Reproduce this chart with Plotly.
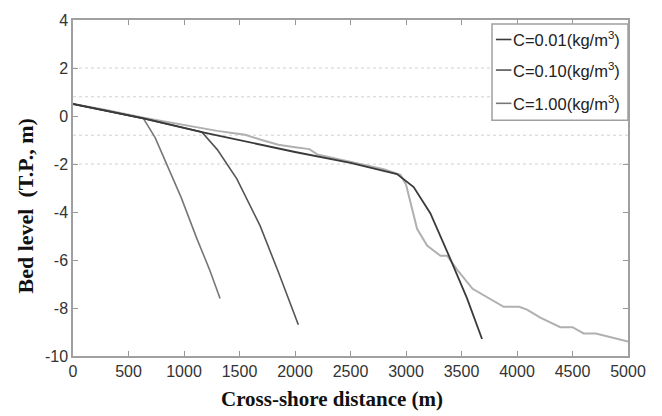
import plotly.graph_objects as go

# Shared upper profile (dark, C=0.01) and its offshore drop
x_c001 = [0, 634, 1160, 2000, 2500, 2919, 3069, 3219, 3400, 3550, 3685]
y_c001 = [0.5, -0.1, -0.67, -1.5, -1.95, -2.42, -2.96, -4.05, -5.96, -7.6, -9.29]

# C=0.10 profile
x_c010 = [0, 634, 1160, 1300, 1476, 1686, 1850, 2030]
y_c010 = [0.5, -0.1, -0.67, -1.4, -2.62, -4.58, -6.5, -8.7]

# C=1.00 profile
x_c100 = [0, 634, 740, 845, 975, 1115, 1230, 1325]
y_c100 = [0.5, -0.1, -0.9, -2.0, -3.4, -5.1, -6.4, -7.6]

# Light profile (no legend entry)
x_init = [0, 300, 634, 900, 1050, 1200, 1300, 1450, 1550, 1700, 1850, 2000, 2130, 2200,
          2400, 2600, 2800, 2950, 3000, 3100, 3190, 3310, 3370, 3460, 3600, 3880, 4020,
          4090, 4210, 4390, 4500, 4600, 4710, 5000]
y_init = [0.5, 0.25, -0.07, -0.3, -0.4, -0.55, -0.62, -0.72, -0.78, -1.0, -1.2, -1.3, -1.38, -1.6,
          -1.8, -2.0, -2.22, -2.45, -2.85, -4.7, -5.4, -5.82, -5.82, -6.4, -7.2, -7.95, -7.95,
          -8.07, -8.4, -8.8, -8.8, -9.06, -9.06, -9.4]

grid_levels = [2, 0.8, -0.8, -2]
x_ticks = list(range(0, 5001, 500))
y_ticks = list(range(-10, 5, 2))
legend_labels = ["C=0.01(kg/m<sup>3</sup>)", "C=0.10(kg/m<sup>3</sup>)", "C=1.00(kg/m<sup>3</sup>)"]
legend_colors = ["#3a3a3a", "#555555", "#777777"]

fig = go.Figure()
fig.add_trace(go.Scatter(x=x_init, y=y_init, mode="lines",
                         line=dict(color="#b0b0b0", width=2), showlegend=False))
fig.add_trace(go.Scatter(x=x_c100, y=y_c100, mode="lines",
                         line=dict(color=legend_colors[2], width=1.6), showlegend=False))
fig.add_trace(go.Scatter(x=x_c010, y=y_c010, mode="lines",
                         line=dict(color=legend_colors[1], width=1.6), showlegend=False))
fig.add_trace(go.Scatter(x=x_c001, y=y_c001, mode="lines",
                         line=dict(color=legend_colors[0], width=1.8), showlegend=False))

shapes = []
for g in grid_levels:
    shapes.append(dict(type="line", xref="paper", x0=0, x1=1, yref="y", y0=g, y1=g,
                       line=dict(color="#d0d0d0", width=1, dash="dot"), layer="below"))

sans = "Liberation Sans, Arial, sans-serif"
serif = "Liberation Serif, Times New Roman, serif"

# Legend box (paper coordinates)
lx0, lx1, ly0, ly1 = 0.755, 1.0, 0.702, 0.988
shapes.append(dict(type="rect", xref="paper", yref="paper", x0=lx0, x1=lx1, y0=ly0, y1=ly1,
                   line=dict(color="#a0a0a0", width=1.5), fillcolor="white", layer="above"))
annotations = []
legend_ys = [0.942, 0.851, 0.752]
for lab, col, yy in zip(legend_labels, legend_colors, legend_ys):
    shapes.append(dict(type="line", xref="paper", yref="paper", x0=0.762, x1=0.790, y0=yy, y1=yy,
                       line=dict(color=col, width=1.6), layer="above"))
    annotations.append(dict(xref="paper", yref="paper", x=0.789, y=yy, text=lab,
                            showarrow=False, xanchor="left", yanchor="middle",
                            font=dict(family=sans, size=16.5, color="#222")))

annotations.append(dict(xref="paper", yref="paper", x=0.467, y=-0.128, text="<b>Cross-shore distance (m)</b>",
                        showarrow=False, xanchor="center", yanchor="middle",
                        font=dict(family=serif, size=21, color="#111")))
annotations.append(dict(xref="paper", yref="paper", x=-0.085, y=0.4475,
                        text="<b>Bed level" + "&nbsp;" * 2 + "(T.P., m)</b>",
                        showarrow=False, xanchor="center", yanchor="middle", textangle=-90,
                        font=dict(family=serif, size=22, color="#111")))

tickfont = dict(family=sans, size=16, color="#333")
fig.update_layout(
    width=662, height=416,
    margin=dict(l=73, r=34, t=13, b=60),
    paper_bgcolor="white", plot_bgcolor="white",
    shapes=shapes, annotations=annotations, showlegend=False,
    xaxis=dict(range=[0, 5000], tickvals=x_ticks, ticktext=[str(v) for v in x_ticks],
               ticks="inside", ticklen=5, tickcolor="#999",
               showline=True, linecolor="#a0a0a0", linewidth=1.5, mirror="ticks",
               showgrid=False, zeroline=False, tickfont=tickfont),
    yaxis=dict(range=[-10, 4], tickvals=y_ticks, ticktext=[str(v) for v in y_ticks],
               ticks="inside", ticklen=5, tickcolor="#999",
               showline=True, linecolor="#a0a0a0", linewidth=1.5, mirror="ticks",
               showgrid=False, zeroline=False, tickfont=tickfont),
)
fig.write_html("out.html")
